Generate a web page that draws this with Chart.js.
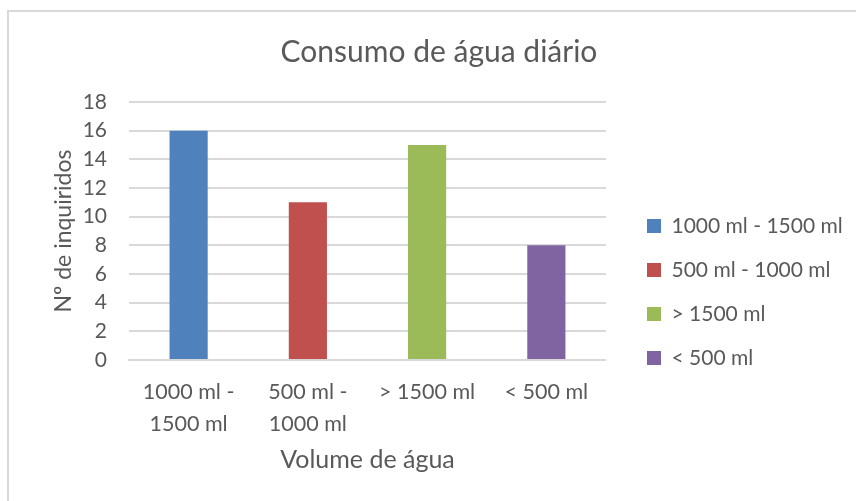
<!DOCTYPE html>
<html>
<head>
<meta charset="utf-8">
<script src="https://cdn.jsdelivr.net/npm/chart.js@4/dist/chart.umd.min.js"></script>
<style>
  html, body { margin: 0; padding: 0; background: #fff; overflow: hidden; }
  #frame { position: absolute; left: 7px; top: 10px; width: 860px; height: 500px;
           border-left: 2px solid #d9d9d9; border-top: 2px solid #d9d9d9; }
  #c { position: absolute; left: 0; top: 0; }
</style>
</head>
<body>
<div id="frame"></div>
<canvas id="c" width="856" height="501"></canvas>
<script>
const categories = ["1000 ml - 1500 ml", "500 ml - 1000 ml", "> 1500 ml", "< 500 ml"];
const tickLabels = [["1000 ml -", "1500 ml"], ["500 ml -", "1000 ml"], "> 1500 ml", "< 500 ml"];
const values = [16, 11, 15, 8];
const colors = ["#4f81bd", "#c0504d", "#9bbb59", "#8064a2"];

const textColor = "#595959";
const fontFamily = "Lato, 'Liberation Sans', sans-serif";
const legendPad = 23;

// put the legend and the title where Excel had them
const boxPlace = {
    id: "boxPlace",
    afterLayout(chart) {
        const lg = chart.legend;
        const h = lg.height;
        lg.left = 647 - legendPad;
        lg.right = chart.width;
        lg.width = lg.right - lg.left;
        lg.top = 226 - 10.5 - legendPad;
        lg.bottom = lg.top + h;

        const tb = chart.titleBlock;
        const dx = 439 - (tb.left + tb.right) / 2;
        tb.left += dx;
        tb.right += dx;
    }
};

const ctx = document.getElementById("c").getContext("2d");
new Chart(ctx, {
    type: "bar",
    data: {
        labels: tickLabels,
        datasets: [
            {
                label: "Nº de inquiridos",
                data: values,
                backgroundColor: colors,
                borderWidth: 0,
                categoryPercentage: 1,
                barPercentage: 0.32,
            },
        ],
    },
    options: {
        responsive: false,
        animation: false,
        layout: { padding: { left: 50, right: 64.7, top: 10, bottom: 26 } },
        plugins: {
            title: {
                display: true,
                text: "Consumo de água diário",
                color: textColor,
                font: { family: fontFamily, size: 30, weight: "normal" },
                padding: { top: 24, bottom: 32 },
            },
            legend: {
                position: "right",
                align: "start",
                labels: {
                    color: textColor,
                    font: { family: fontFamily, size: 21 },
                    boxWidth: 14,
                    boxHeight: 14,
                    padding: legendPad,
                    generateLabels: () =>
                        categories.map((name, i) => ({
                            text: name,
                            fillStyle: colors[i],
                            strokeStyle: colors[i],
                            lineWidth: 0,
                            fontColor: textColor,
                            index: i,
                        })),
                },
            },
            tooltip: { enabled: false },
        },
        scales: {
            x: {
                grid: { display: false, drawTicks: false },
                border: { display: true, color: "#d9d9d9", width: 2 },
                ticks: {
                    color: textColor,
                    font: { family: fontFamily, size: 21.5, lineHeight: 1.48 },
                    padding: 16,
                    maxRotation: 0,
                    autoSkip: false,
                },
                title: {
                    display: true,
                    text: "Volume de água",
                    color: textColor,
                    font: { family: fontFamily, size: 25 },
                    padding: 0,
                },
                afterFit(scale) { scale.height = 115; },
            },
            y: {
                min: 0,
                max: 18,
                grid: { color: "#d9d9d9", lineWidth: 2, drawTicks: false },
                border: { display: false },
                ticks: {
                    stepSize: 2,
                    color: textColor,
                    font: { family: fontFamily, size: 21 },
                    padding: 22,
                },
                title: {
                    display: true,
                    text: "Nº de inquiridos",
                    color: textColor,
                    font: { family: fontFamily, size: 23 },
                    padding: 0,
                },
                afterFit(scale) { scale.width = 79; },
            },
        },
    },
    plugins: [boxPlace],
});
</script>
</body>
</html>
